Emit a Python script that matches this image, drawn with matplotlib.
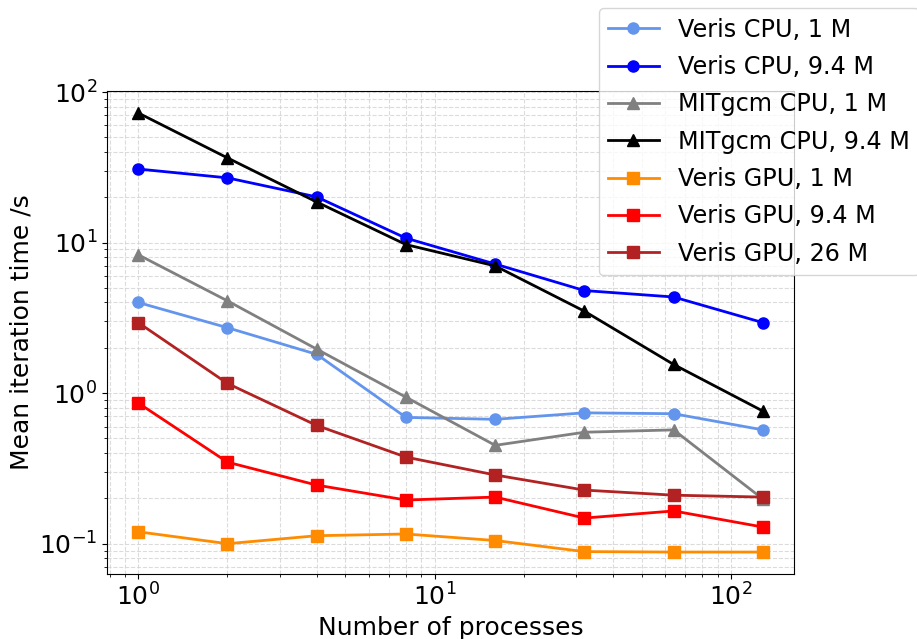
import matplotlib
matplotlib.use("Agg")
from matplotlib import pyplot as plt

procs = [1, 2, 4, 8, 16, 32, 64, 128]

veris_cpu_1m = [4.0, 2.72, 1.81, 0.69, 0.67, 0.74, 0.73, 0.57]
veris_cpu_94m = [30.8, 26.9, 20.1, 10.7, 7.2, 4.8, 4.35, 2.94]
mitgcm_cpu_1m = [8.3, 4.1, 1.96, 0.94, 0.45, 0.55, 0.57, 0.198]
mitgcm_cpu_94m = [72.6, 36.5, 18.6, 9.7, 7.0, 3.5, 1.55, 0.76]
veris_gpu_1m = [0.12, 0.1, 0.113, 0.116, 0.105, 0.0886, 0.088, 0.088]
veris_gpu_94m = [0.86, 0.348, 0.245, 0.195, 0.204, 0.148, 0.165, 0.129]
veris_gpu_26m = [2.94, 1.16, 0.61, 0.376, 0.286, 0.227, 0.21, 0.204]

series = [
	(veris_cpu_1m, "Veris CPU, 1 M", "cornflowerblue", "o"),
	(veris_cpu_94m, "Veris CPU, 9.4 M", "blue", "o"),
	(mitgcm_cpu_1m, "MITgcm CPU, 1 M", "gray", "^"),
	(mitgcm_cpu_94m, "MITgcm CPU, 9.4 M", "black", "^"),
	(veris_gpu_1m, "Veris GPU, 1 M", "darkorange", "s"),
	(veris_gpu_94m, "Veris GPU, 9.4 M", "red", "s"),
	(veris_gpu_26m, "Veris GPU, 26 M", "firebrick", "s"),
]

plt.rcParams["font.size"] = 18

fig = plt.figure(figsize=(9.17, 6.39), dpi=100)
ax = fig.add_axes([0.1167, 0.1017, 0.7493, 0.7559])

for y, lab, col, mk in series:
	ax.plot(procs, y, marker=mk, color=col, label=lab, lw=2, markersize=8)

ax.set_xscale("log")
ax.set_yscale("log")
ax.grid(True, which="both", linestyle="--", color="lightgray", alpha=0.8)
ax.set_xlabel("Number of processes")
ax.set_ylabel("Mean iteration time /s")

# legend hangs off the right edge like the original
fig.legend(loc="upper left", bbox_to_anchor=(0.653, 0.9875),
	bbox_transform=fig.transFigure, borderaxespad=0, fontsize=17.2,
	labelspacing=0.56, handlelength=2.1)

fig.savefig("out.png", dpi=100)
